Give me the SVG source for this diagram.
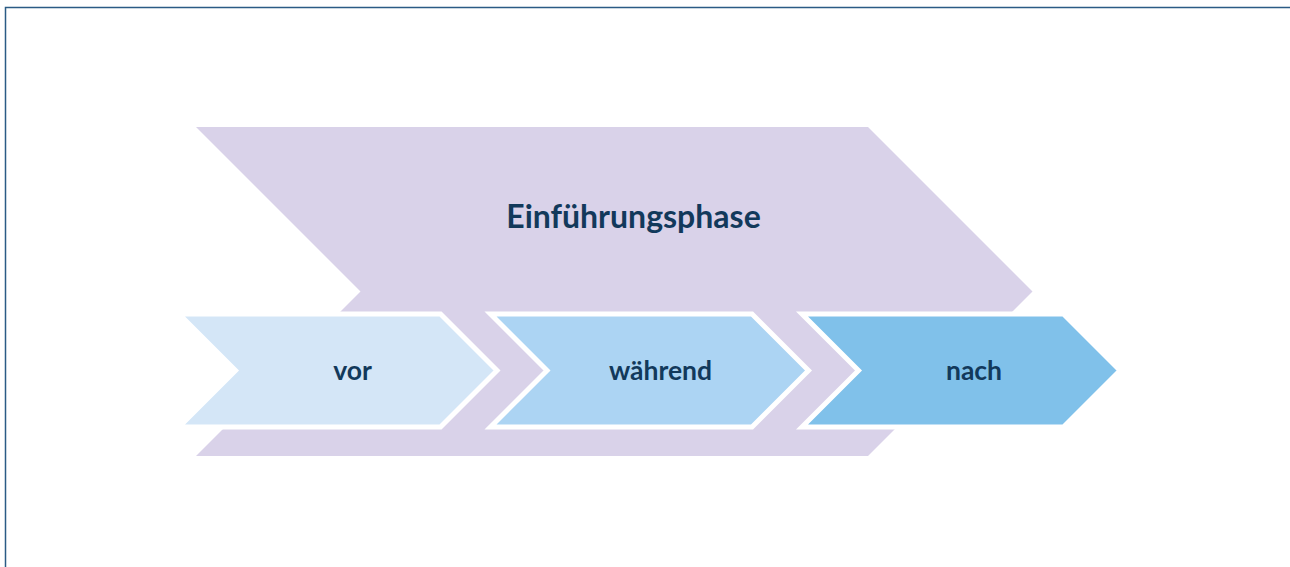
<svg xmlns="http://www.w3.org/2000/svg" width="1290" height="567" viewBox="0 0 1290 567">
<style>
.frame{fill:none;stroke:#2b5b85;stroke-width:1.5}
.phase{fill:#d9d2e9}
.step{stroke:#ffffff;stroke-width:5;stroke-linejoin:miter;stroke-miterlimit:10}
.s1{fill:#d4e6f7}
.s2{fill:#acd4f3}
.s3{fill:#80c1ea}
.lbl{font-family:Lato,"Open Sans","Liberation Sans",sans-serif;font-weight:700;fill:#12395b;text-anchor:middle}
.big{font-size:32px}
.small{font-size:26.5px}
</style>
<rect class="frame" x="5.5" y="7.5" width="1300" height="620"/>
<g id="phase">
<polygon class="phase" points="196,127 868,127 1032.5,291.5 868,456 196,456 360.5,291.5"/>
<text class="lbl big" x="633.5" y="228">Einführungsphase</text>
</g>
<g id="vor">
<polygon class="step s1" points="179,314 440.5,314 497,370.5 440.5,427 179,427 235.5,370.5"/>
<text class="lbl small" x="352.5" y="380">vor</text>
</g>
<g id="waehrend">
<polygon class="step s2" points="490.5,314 752,314 808.5,370.5 752,427 490.5,427 547,370.5"/>
<text class="lbl small" x="660.5" y="380">während</text>
</g>
<g id="nach">
<polygon class="step s3" points="802,314 1063.5,314 1120,370.5 1063.5,427 802,427 858.5,370.5"/>
<text class="lbl small" x="974" y="380">nach</text>
</g>
<g id="connectors"></g>
</svg>
